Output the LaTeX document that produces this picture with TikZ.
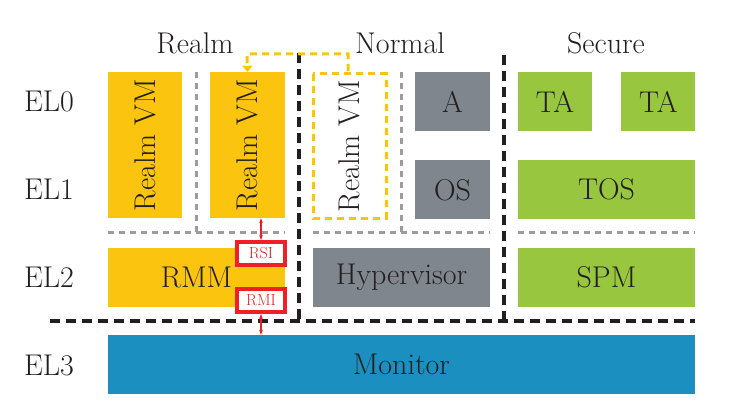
\documentclass[tikz,border=0pt]{standalone}
\usepackage{xcolor}
\usepackage{tikz}
\usetikzlibrary{positioning,arrows.meta}

\definecolor{realmY}{HTML}{FBC50F}
\definecolor{normG}{HTML}{7F868E}
\definecolor{secG}{HTML}{98C73F}
\definecolor{monB}{HTML}{1A8FC0}
\definecolor{sepG}{HTML}{9C9C9E}
\definecolor{ifR}{HTML}{EE2026}
\definecolor{txt}{HTML}{231F20}

\begin{document}
\begin{tikzpicture}[x=1pt, y=-1pt, every node/.style={font=\fontsize{30}{34}\selectfont, text=txt},
    realm/.style={rectangle, fill=realmY, minimum width=74pt, minimum height=59pt, inner sep=0pt},
    normal/.style={rectangle, fill=normG, minimum width=75pt, minimum height=59pt, inner sep=0pt},
    secure/.style={rectangle, fill=secG, minimum width=74pt, minimum height=59pt, inner sep=0pt},
    iface/.style={rectangle, draw=ifR, line width=4pt, fill=white, minimum width=48pt, minimum height=23pt, inner sep=0pt, font=\fontsize{16}{18}\selectfont, text=ifR},
    world/.style={txt, line width=3.5pt, dash pattern=on 10pt off 6pt},
    level/.style={sepG, line width=3pt, dash pattern=on 6pt off 5pt}]
    \useasboundingbox (0,0) rectangle (740,412);
    % worlds and exception levels
    \node (realmT) at (195,43) {Realm};
    \node (normalT) at (400,43) {Normal};
    \node (secureT) at (606,43) {Secure};
    \node (el0) at (49,101) {EL0};
    \node (el1) at (49,189) {EL1};
    \node (el2) at (49,277) {EL2};
    \node (el3) at (49,365) {EL3};
    % realm world
    \node[realm, rotate=90, minimum width=146pt, minimum height=74pt] (rvm1) at (145,145) {Realm VM};
    \node[realm, rotate=90, minimum width=146pt, minimum height=75pt] (rvm2) at (247.5,145) {Realm VM};
    \node[realm, minimum width=177pt] (rmm) at (196.5,277.5) {RMM};
    % normal world
    \node[rectangle, rotate=90, draw=realmY, line width=3pt, dash pattern=on 7pt off 5pt, minimum width=144pt, minimum height=73pt, inner sep=0pt] (rvm3) at (349.5,146) {Realm VM};
    \node[normal] (app) at (452.5,101.5) {A};
    \node[normal, below=29pt of app] (os) {OS};
    \node[normal, minimum width=177pt] (hyp) at (401.5,277.5) {Hypervisor};
    % secure world
    \node[secure] (ta1) at (555,101.5) {TA};
    \node[secure, right=29pt of ta1] (ta2) {TA};
    \node[secure, minimum width=177pt] (tos) at (606.5,189.5) {TOS};
    \node[secure, minimum width=177pt] (spm) at (606.5,277.5) {SPM};
    % monitor
    \node[rectangle, fill=monB, minimum width=587pt, minimum height=59pt] (mon) at (401.5,364.5) {Monitor};
    % separators
    \draw[level] (196,72) -- (196,232) (108,232) -- (285,232);
    \draw[level] (401,72) -- (401,232) (313,232) -- (490,232);
    \draw[level] (518,232) -- (695,232);
    \draw[world] (299,53) -- (299,321) (504,55) -- (504,321);
    \draw[world] (50,321) -- (695,321);
    % interfaces
    \node[iface] (rsi) at (261,253.5) {RSI};
    \node[iface] (rmi) at (261,300.5) {RMI};
    \draw[{Stealth[length=5pt]}-{Stealth[length=5pt]}, ifR, line width=1.3pt] (rsi.north) -- (rsi.north |- rvm2.west);
    \draw[{Stealth[length=5pt]}-{Stealth[length=5pt]}, ifR, line width=1.3pt] (rmi.south) -- (rmi.south |- mon.north);
    % realm vm migration
    \draw[-{Triangle[length=6pt, width=10pt]}, realmY, line width=3pt, dash pattern=on 7pt off 5pt] (348,71) -- (348,54) -- (247,54) -- (rvm2.east);
\end{tikzpicture}
\end{document}
